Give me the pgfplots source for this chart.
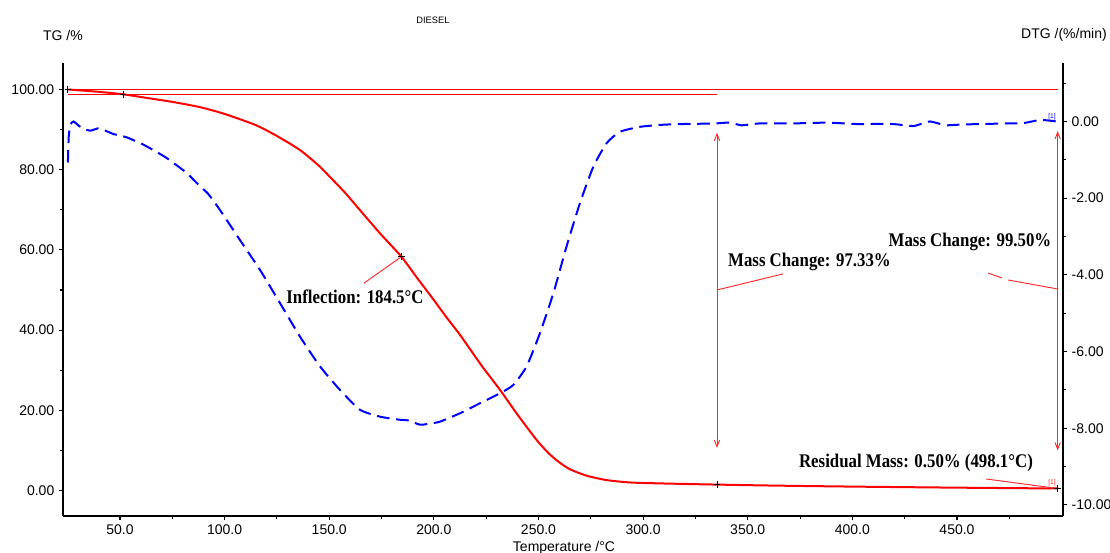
\documentclass[border=0pt]{standalone}
\usepackage{pgfplots}
\pgfplotsset{compat=1.18}
\usepackage{fontspec}
\setmainfont{Liberation Sans}
\newfontfamily\timesfont{Liberation Serif}
\usetikzlibrary{arrows.meta}
\definecolor{tgred}{RGB}{255,0,0}
\definecolor{annred}{RGB}{255,40,40}
\definecolor{dtgblue}{RGB}{0,0,255}

\pgfplotstableread{
T TG
25.1 100.0
30 99.8
40 99.4
51.4 98.8
62.7 97.9
75 96.9
88.2 95.6
100 93.9
112 91.7
117 90.6
125 88.4
136 84.9
145 81.0
151.8 77.4
158 74.0
164.7 69.9
174.3 64.1
184.5 58.3
192 53.0
199.7 47.7
206 43.2
212.5 38.8
223 31.0
231.6 25.1
240 18.9
249.1 12.6
255 9.2
260 7.0
265 5.3
272.9 3.7
282.5 2.6
293.7 2.0
309.6 1.75
335.3 1.47
365.4 1.2
403.6 0.95
451.4 0.7
498.1 0.5
}\tgdata

\pgfplotstableread{
T DTG
25.1 -1.07
25.5 -0.40
26.3 -0.08
27.8 0.0
30.5 -0.12
33 -0.20
36 -0.24
39.5 -0.18
43 -0.24
47 -0.33
53 -0.41
61 -0.60
67 -0.78
72.5 -0.96
82 -1.35
88 -1.68
92 -1.88
97.8 -2.31
107.3 -3.09
116.9 -3.87
126.5 -4.74
136 -5.61
145.6 -6.39
155.1 -7.00
164.7 -7.52
174.3 -7.70
183.8 -7.78
188 -7.80
193.4 -7.91
198 -7.88
202.9 -7.83
212.5 -7.61
222 -7.35
231.6 -7.09
238 -6.87
244.3 -6.39
250.7 -5.52
257.1 -4.48
263.4 -3.26
269.8 -2.13
276.2 -1.18
282.5 -0.57
288.9 -0.27
298.5 -0.14
308.1 -0.09
316 -0.07
327 -0.06
335 -0.05
341 -0.03
347 -0.10
352 -0.07
356 -0.05
364 -0.05
372 -0.05
380 -0.04
388 -0.03
396 -0.05
404 -0.07
412 -0.06
420 -0.07
429 -0.12
433 -0.06
437 0.0
441 -0.05
445 -0.10
452 -0.08
459 -0.07
467 -0.06
475 -0.05
482 -0.04
489.7 0.04
494.5 0.02
497.6 0.0
}\dtgdata

\pgfplotsset{
  myaxis/.style={
    at={(47.25pt,27.75pt)}, anchor=south west,
    scale only axis, width=750pt, height=339.75pt,
    xmin=22.76, xmax=500.66,
    tick align=outside,
    major tick length=3pt, minor tick length=2.25pt,
    axis line style={line width=1.1pt, black},
    every tick/.style={black, line width=0.8pt},
    /pgf/number format/assume math mode=true,
    tick label style={font=\fontsize{10.5}{12}\selectfont},
    clip=false,
  },
}
\tikzset{ann/.style={font=\timesfont\bfseries\fontsize{14.5}{16}\selectfont, xscale=0.87, inner sep=0pt}}

\begin{document}
\begin{tikzpicture}
\useasboundingbox (0pt,0pt) rectangle (832.5pt,414.75pt);

\begin{axis}[myaxis,
  axis y line*=right, axis x line=none,
  ymin=-10.29, ymax=1.525,
  ytick={-10,-8,...,0}, minor ytick={-9,-7,...,1},
  yticklabel style={/pgf/number format/fixed,/pgf/number format/fixed zerofill,/pgf/number format/precision=2},
]
\addplot[dtgblue, line width=1.5pt, dash pattern=on 9.5pt off 5pt, smooth, tension=0.35] table[x=T,y=DTG]{\dtgdata};
\end{axis}

\begin{axis}[myaxis,
  axis x line*=bottom, axis y line*=left,
  ymin=-6.36, ymax=106.6,
  xtick={50,100,...,450}, minor xtick={75,125,...,475},
  ytick={0,20,...,100}, minor ytick={10,30,...,90},
  xticklabel style={/pgf/number format/fixed,/pgf/number format/fixed zerofill,/pgf/number format/precision=1},
  yticklabel style={/pgf/number format/fixed,/pgf/number format/fixed zerofill,/pgf/number format/precision=2},
]
% reference lines
\draw[tgred, line width=1pt] (axis cs:25.1,99.95) -- (axis cs:498.1,99.95);
\draw[tgred, line width=1pt] (axis cs:25.1,98.8) -- (axis cs:335.3,98.8);
\addplot[tgred, line width=1.5pt, smooth, tension=0.4] table[x=T,y=TG]{\tgdata};
% mass change arrows
\draw[annred, line width=0.7pt, {Straight Barb[length=5pt,width=4pt]}-{Straight Barb[length=5pt,width=4pt]}] (axis cs:335.3,89.2) -- (axis cs:335.3,10.6);
\draw[annred, line width=0.7pt, {Straight Barb[length=5pt,width=4pt]}-{Straight Barb[length=5pt,width=4pt]}] (axis cs:498.1,89.6) -- (axis cs:498.1,10.0);
% leaders
\draw[annred, line width=0.7pt] (axis cs:184.5,58.3) -- (axis cs:166.6,51.7);
\draw[annred, line width=0.7pt] (axis cs:335.3,50.0) -- (axis cs:366.8,54.0);
\draw[annred, line width=0.7pt] (axis cs:464.8,54.24) -- (axis cs:471.5,52.99);
\draw[annred, line width=0.7pt] (axis cs:474.4,52.49) -- (axis cs:498.1,50.25);
\draw[annred, line width=0.7pt] (axis cs:463.9,2.87) -- (axis cs:498.1,0.5);
\addplot[only marks, mark=+, mark size=2.5pt, black, mark options={line width=0.6pt}] coordinates {(25.1,100) (51.4,98.8) (184.5,58.3) (335.3,1.47) (498.1,0.5)};
% labels
\node[ann] at (axis cs:162.3,48.25) {Inflection: 184.5°C};
\node[ann] at (axis cs:379.5,57.0) {Mass Change: 97.33\%};
\node[ann] at (axis cs:456.2,62.0) {Mass Change: 99.50\%};
\node[ann] at (axis cs:430.4,6.9) {Residual Mass: 0.50\% (498.1°C)};
\node[font=\fontsize{5}{6}\selectfont, text=dtgblue, inner sep=0pt] at (axis cs:495.4,93.3) {[1]};
\node[font=\fontsize{5}{6}\selectfont, text=annred, inner sep=0pt] at (axis cs:495.4,1.8) {[1]};
\end{axis}

\node[font=\fontsize{7}{8}\selectfont] at (324.75pt,399.75pt) {DIESEL};
\node[font=\fontsize{10.5}{12}\selectfont] at (47.25pt,387.75pt) {TG /\%};
\node[font=\fontsize{10.5}{12}\selectfont] at (798pt,388.5pt) {DTG /(\%/min)};
\node[font=\fontsize{10.5}{12}\selectfont, anchor=base] at (423pt,1.275pt) {Temperature /°C};
\end{tikzpicture}
\end{document}
